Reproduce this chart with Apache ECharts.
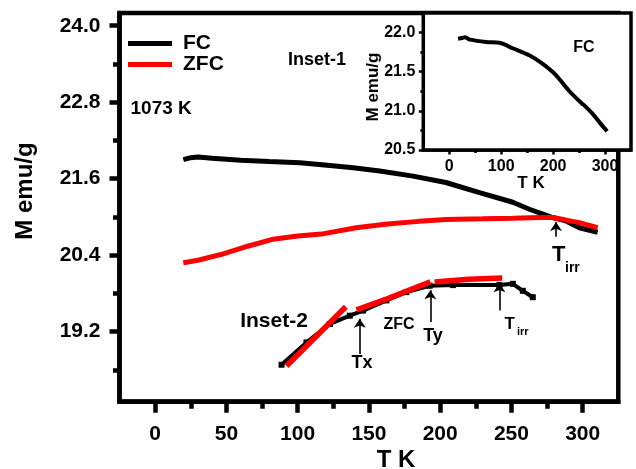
<!DOCTYPE html>
<html>
<head>
<meta charset="utf-8">
<script src="https://cdn.jsdelivr.net/npm/echarts@6/dist/echarts.min.js"></script>
<style>html,body{margin:0;padding:0;background:#fff}#c{width:636px;height:469px}</style>
</head>
<body>
<div id="c"></div>
<script>
// ---- main panel data ----
const fcT = [19.8, 25, 30, 40, 60, 80, 101.6, 117, 139, 157.6, 181, 204, 227.6, 251, 262.6, 279, 288, 297.7, 310.5];
const fcM = [21.90, 21.93, 21.94, 21.92, 21.89, 21.87, 21.85, 21.82, 21.77, 21.72, 21.64, 21.54, 21.38, 21.23, 21.12, 20.99, 20.94, 20.83, 20.76];
const zfcT = [19.8, 30, 47.8, 65, 82.9, 100, 116.7, 141, 163, 185, 204, 230, 251, 270, 279, 293, 297.7, 310.5];
const zfcM = [20.28, 20.32, 20.42, 20.54, 20.65, 20.70, 20.73, 20.83, 20.89, 20.93, 20.96, 20.97, 20.98, 20.99, 20.99, 20.93, 20.91, 20.83];
// ---- inset-1 (FC) ----
const in1T = [17, 25, 30, 40, 71, 97, 122, 154, 180, 205, 230, 256, 260, 275, 291, 304];
const in1M = [21.92, 21.93, 21.94, 21.91, 21.88, 21.87, 21.80, 21.71, 21.60, 21.46, 21.26, 21.09, 21.07, 20.97, 20.84, 20.74];
// ---- inset-2 (ZFC detail) ----
const in2T = [88.7, 106.2, 122.6, 136.6, 145.9, 162.3, 176.3, 192.6, 208.9, 241.6, 251, 258, 265];
const in2M = [18.68, 19.03, 19.32, 19.45, 19.53, 19.69, 19.82, 19.92, 19.93, 19.93, 19.95, 19.84, 19.74];
const seg1T = [92.2, 133.8], seg1M = [18.66, 19.59];
const seg2T = [141.3, 162.3, 193.1], seg2M = [19.54, 19.71, 19.98];
const seg3T = [196.1, 220, 243.5], seg3M = [19.98, 20.02, 20.04];
// arrows: [T, tail M, tip M]
const arrows = [[281.3, 20.69, 20.92], [143.6, 18.85, 19.40], [193.1, 19.35, 19.85], [241.6, 19.53, 19.96]];
// ticks
const xLabels = [0, 50, 100, 150, 200, 250, 300];
const xMinor = [25, 75, 125, 175, 225, 275];
const yLabels = [19.2, 20.4, 21.6, 22.8, 24.0];
const yMinor = [18.6, 19.8, 21.0, 22.2, 23.4];
const ixLabels = [0, 100, 200, 300];
const ixMinor = [50, 150, 250];
const iyLabels = [20.5, 21.0, 21.5, 22.0];
const iyMinor = [20.75, 21.25, 21.75];

const zip = (a, b) => a.map((v, i) => [v, b[i]]);
const F = 'Liberation Sans, Arial, sans-serif';
const lbl = (size) => ({fontFamily: F, fontWeight: 'bold', fontSize: size, color: '#000'});

const chart = echarts.init(document.getElementById('c'), null, {renderer: 'canvas'});
const mkX = (gi, min, max, labels, ticks, len, w, size, margin, showLine, z) => ({
  type: 'value', gridIndex: gi, min, max, position: 'bottom', z,
  axisLine: {show: showLine, onZero: false, lineStyle: {color: '#000', width: w}},
  axisTick: {show: true, customValues: ticks, length: len, lineStyle: {color: '#000', width: w}},
  axisLabel: labels ? Object.assign({show: true, customValues: labels, margin}, lbl(size)) : {show: false},
  splitLine: {show: false}
});
const mkY = (gi, min, max, labels, ticks, len, w, size, margin, showLine, z) => ({
  type: 'value', gridIndex: gi, min, max, position: 'left', z,
  axisLine: {show: showLine, onZero: false, lineStyle: {color: '#000', width: w}},
  axisTick: {show: true, customValues: ticks, length: len, lineStyle: {color: '#000', width: w}},
  axisLabel: labels ? Object.assign({show: true, customValues: labels, margin, formatter: v => Number(v).toFixed(1)}, lbl(size)) : {show: false},
  splitLine: {show: false}
});

const option = {
  animation: false,
  backgroundColor: '#fff',
  grid: [
    {left: 119.5, top: 13, width: 498.8, height: 388.7, show: true, borderColor: '#000', borderWidth: 4.5, backgroundColor: 'transparent', z: 0},
    {left: 423.3, top: 13, width: 207.7, height: 137, show: true, borderColor: '#000', borderWidth: 3.5, backgroundColor: '#fff', z: 5}
  ],
  xAxis: [
    mkX(0, -25, 325, xLabels, xLabels, 11, 4.5, 21, 22, true, 1),
    mkX(0, -25, 325, null, xMinor, 7, 4.5, 21, 22, false, 1),
    mkX(1, -50, 350, ixLabels, ixLabels, 4.5, 2.5, 16, 9, true, 6),
    mkX(1, -50, 350, null, ixMinor, 3, 2.5, 16, 9, false, 6)
  ],
  yAxis: [
    mkY(0, 18.1, 24.2, yLabels, yLabels, 10, 4.5, 21, 19, true, 1),
    mkY(0, 18.1, 24.2, null, yMinor, 6.5, 4.5, 21, 19, false, 1),
    mkY(1, 20.5, 22.25, iyLabels, iyLabels, 4.5, 2.5, 16, 8, true, 6),
    mkY(1, 20.5, 22.25, null, iyMinor, 3, 2.5, 16, 8, false, 6)
  ],
  legend: {
    data: ['FC', 'ZFC'], orient: 'vertical', left: 128, top: 33, padding: 0,
    itemWidth: 44, itemHeight: 5, itemGap: 0, icon: 'rect',
    textStyle: Object.assign({padding: [0, 0, 0, 6], lineHeight: 21}, lbl(21))
  },
  series: [
    {name: 'FC', type: 'line', xAxisIndex: 0, yAxisIndex: 0, data: zip(fcT, fcM), color: '#000', symbol: 'none', lineStyle: {width: 5, color: '#000'}, z: 2},
    {name: 'ZFC', type: 'line', xAxisIndex: 0, yAxisIndex: 0, data: zip(zfcT, zfcM), color: '#ff0000', symbol: 'none', lineStyle: {width: 5, color: '#ff0000'}, z: 2},
    {name: 'FC inset', type: 'line', xAxisIndex: 2, yAxisIndex: 2, data: zip(in1T, in1M), color: '#000', symbol: 'none', smooth: 0.3, lineStyle: {width: 4, color: '#000'}, z: 7},
    {name: 'ZFC inset-2', type: 'line', xAxisIndex: 0, yAxisIndex: 0, data: zip(in2T, in2M), color: '#000', symbol: 'rect', symbolSize: 6, itemStyle: {color: '#000'}, lineStyle: {width: 4, color: '#000'}, z: 3,
      markLine: {
        silent: true, symbol: ['none', 'arrow'], symbolSize: 9, label: {show: false},
        lineStyle: {color: '#000', width: 1.6, type: 'solid'}, itemStyle: {color: '#000'}, emphasis: {disabled: true},
        data: arrows.map(a => [{coord: [a[0], a[1]]}, {coord: [a[0], a[2]]}])
      }},
    {name: 's1', type: 'line', xAxisIndex: 0, yAxisIndex: 0, data: zip(seg1T, seg1M), color: '#ff0000', symbol: 'none', lineStyle: {width: 5.5, color: '#ff0000'}, z: 4},
    {name: 's2', type: 'line', xAxisIndex: 0, yAxisIndex: 0, data: zip(seg2T, seg2M), color: '#ff0000', symbol: 'none', lineStyle: {width: 5.5, color: '#ff0000'}, z: 4},
    {name: 's3', type: 'line', xAxisIndex: 0, yAxisIndex: 0, data: zip(seg3T, seg3M), color: '#ff0000', symbol: 'none', lineStyle: {width: 5.5, color: '#ff0000'}, z: 4}
  ],
  graphic: [
    {type: 'text', x: 25, y: 191, rotation: Math.PI / 2, style: {text: 'M emu/g', align: 'center', verticalAlign: 'middle', font: 'bold 24px ' + F, fill: '#000'}},
    {type: 'text', x: 396, y: 460, style: {text: 'T K', align: 'center', verticalAlign: 'middle', font: 'bold 24px ' + F, fill: '#000'}},
    {type: 'text', x: 130.5, y: 109, style: {text: '1073 K', align: 'left', verticalAlign: 'middle', font: 'bold 19px ' + F, fill: '#000'}},
    {type: 'text', x: 317, y: 60, style: {text: 'Inset-1', align: 'center', verticalAlign: 'middle', font: 'bold 18px ' + F, fill: '#000'}},
    {type: 'text', x: 373, y: 87, rotation: Math.PI / 2, z: 10, style: {text: 'M emu/g', align: 'center', verticalAlign: 'middle', font: 'bold 17px ' + F, fill: '#000'}},
    {type: 'text', x: 531, y: 183, z: 10, style: {text: 'T K', align: 'center', verticalAlign: 'middle', font: 'bold 17px ' + F, fill: '#000'}},
    {type: 'text', x: 584, y: 47.5, z: 10, style: {text: 'FC', align: 'center', verticalAlign: 'middle', font: 'bold 16px ' + F, fill: '#000'}},
    {type: 'text', x: 274, y: 321, style: {text: 'Inset-2', align: 'center', verticalAlign: 'middle', font: 'bold 21px ' + F, fill: '#000'}},
    {type: 'text', x: 399, y: 324.5, style: {text: 'ZFC', align: 'center', verticalAlign: 'middle', font: 'bold 16px ' + F, fill: '#000'}},
    {type: 'text', x: 362, y: 363, style: {text: 'Tx', align: 'center', verticalAlign: 'middle', font: 'bold 18px ' + F, fill: '#000'}},
    {type: 'text', x: 433, y: 336, style: {text: 'Ty', align: 'center', verticalAlign: 'middle', font: 'bold 18px ' + F, fill: '#000'}},
    {type: 'text', x: 504.5, y: 324.5, style: {text: 'T', align: 'left', verticalAlign: 'middle', font: 'bold 17px ' + F, fill: '#000'}},
    {type: 'text', x: 517, y: 332, style: {text: 'irr', align: 'left', verticalAlign: 'middle', font: 'bold 11px ' + F, fill: '#000'}},
    {type: 'text', x: 552, y: 255, style: {text: 'T', align: 'left', verticalAlign: 'middle', font: 'bold 22px ' + F, fill: '#000'}},
    {type: 'text', x: 565, y: 268, style: {text: 'irr', align: 'left', verticalAlign: 'middle', font: 'bold 14px ' + F, fill: '#000'}}
  ]
};
chart.setOption(option);
</script>
</body>
</html>
